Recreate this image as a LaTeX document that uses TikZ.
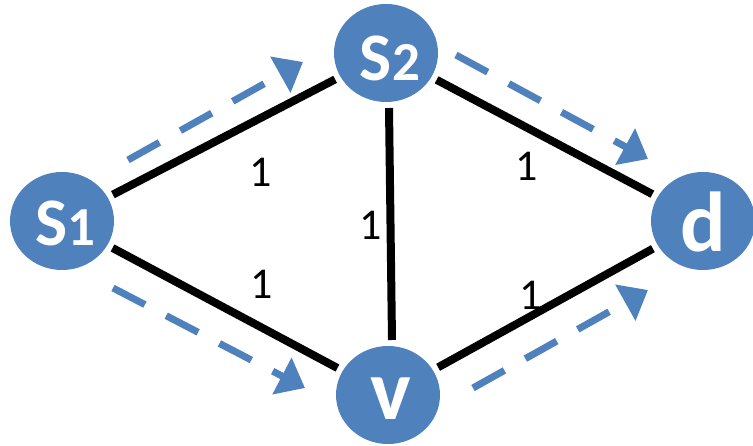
\documentclass[tikz,border=0pt]{standalone}
\usepackage{fontspec}
\setmainfont{Carlito}
\usetikzlibrary{arrows.meta,shapes.geometric,calc}
\definecolor{nodeblue}{RGB}{79,129,189}
\newcommand{\vsub}[1]{{\fontsize{55}{55}\selectfont #1}}
\begin{document}
\begin{tikzpicture}[x=1pt,y=-1pt,
  vertex/.style={ellipse,fill=nodeblue,draw=none,minimum width=104pt,minimum height=98pt,
    inner sep=0pt,outer sep=6pt},
  vname/.style={inner sep=0pt,text=white,font=\fontsize{68}{68}\selectfont\bfseries},
  link/.style={line width=8pt,black},
  weight/.style={font=\fontsize{44}{44}\selectfont,inner sep=0pt},
  flow/.style={nodeblue,line width=7pt,dash pattern=on 36pt off 24pt,
    -{Triangle[length=26pt,width=40pt]}}
]
\useasboundingbox (0,0) rectangle (753,446);

% vertices
\node[vertex] (s1) at (62,221) {};
\node[vertex] (s2) at (386,53) {};
\node[vertex] (d)  at (703,221) {};
\node[vertex] (v)  at (388,395) {};

% vertex names
\node[vname] (s1t) at ($(s1)+(3.5,2.5)$) {S\vsub{1}};
\node[vname] (s2t) at ($(s2)+(4,5.5)$) {S\vsub{2}};
\node[vname,font=\fontsize{85}{85}\selectfont\bfseries] (dt) at ($(d)+(0.5,1)$) {d};
\node[vname,font=\fontsize{86}{86}\selectfont\bfseries] (vt) at ($(v)+(3,4)$) {v};

% weighted links
\draw[link] (s1) -- (s2);
\draw[link] (s2) -- (d);
\draw[link] ($(s2.south)+(3,0)$) -- ($(v.north)+(4,0)$);
\draw[link] (s1) -- (v);
\draw[link] (v) -- (d);

% link weights
\node[weight] (w1) at (261,172) {1};
\node[weight] (w2) at (527,166) {1};
\node[weight] (w3) at (371,225) {1};
\node[weight] (w4) at (262,284) {1};
\node[weight] (w5) at (531,295) {1};

% flow directions
\coordinate (f1a) at (128,160);
\coordinate (f1b) at (303,62);
\coordinate (f2a) at (456,55);
\coordinate (f2b) at (648,159);
\coordinate (f3a) at (113,288);
\coordinate (f3b) at (305,388);
\coordinate (f4a) at (473,388);
\coordinate (f4b) at (648,290);
\draw[flow] (f1a) -- (f1b);
\draw[flow] (f2a) -- (f2b);
\draw[flow] (f3a) -- (f3b);
\draw[flow] (f4a) -- (f4b);
\end{tikzpicture}
\end{document}
